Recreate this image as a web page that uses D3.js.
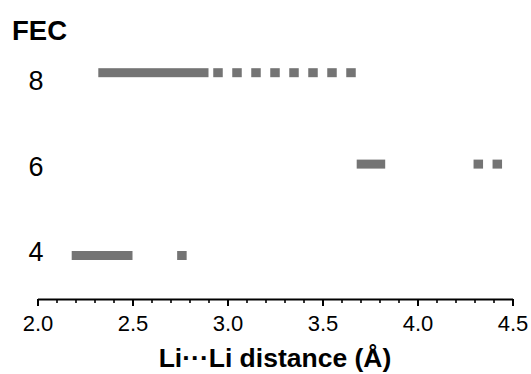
<!DOCTYPE html>
<html>
<head>
<meta charset="utf-8">
<script src="https://cdn.jsdelivr.net/npm/d3@7"></script>
<style>
  body { margin: 0; background: #fff; }
  svg { display: block; font-family: "Liberation Sans", Arial, Helvetica, sans-serif; }
</style>
</head>
<body>
<div id="chart"></div>
<script>
// FEC levels shown on the y side
const fecLevels = [8, 6, 4];

// continuous bands (Li...Li distance ranges, Å)
const bandFEC = [8, 6, 4];
const bandFrom = [2.32, 3.68, 2.18];
const bandTo = [2.90, 3.83, 2.50];

// single short segments (centre distance, Å)
const dotFEC = [8, 8, 8, 8, 8, 8, 8, 8, 6, 6, 4];
const dotDist = [2.95, 3.05, 3.15, 3.25, 3.35, 3.45, 3.55, 3.65, 4.32, 4.42, 2.76];

// x axis
const xMajorTicks = [2.0, 2.5, 3.0, 3.5, 4.0, 4.5];
const xMinorTicks = d3.range(20, 46).map(d => d / 10);

const width = 531;
const height = 374;
const barH = 9;
const dotW = 0.05;

const svg = d3.select('#chart').append('svg')
    .attr('width', width)
    .attr('height', height);

// scales
let xScale = d3.scaleLinear()
    .domain([2.0, 4.5])
    .range([37.5, 512.5]);

let yScale = d3.scaleLinear()
    .domain([4, 8])
    .range([255.5, 72.7]);

// labels sit a bit off the bar centres in the original
let yLabelScale = d3.scaleLinear()
    .domain([4, 8])
    .range([251.7, 80]);

const barColor = '#747474';

// bands
svg.append('g').selectAll('rect')
    .data(bandFEC)
    .join('rect')
    .attr('x', (d, i) => xScale(bandFrom[i]))
    .attr('width', (d, i) => xScale(bandTo[i]) - xScale(bandFrom[i]))
    .attr('y', d => yScale(d) - barH / 2)
    .attr('height', barH)
    .attr('fill', barColor);

// short segments
svg.append('g').selectAll('rect')
    .data(dotFEC)
    .join('rect')
    .attr('x', (d, i) => xScale(dotDist[i] - dotW / 2))
    .attr('width', xScale(2 + dotW) - xScale(2))
    .attr('y', d => yScale(d) - barH / 2)
    .attr('height', barH)
    .attr('fill', barColor);

// y labels
svg.append('text')
    .attr('x', 12)
    .attr('y', 40)
    .text('FEC')
    .style('font-size', '27.5px')
    .style('font-weight', 'bold')
    .style('fill', '#000');

svg.append('g').selectAll('text')
    .data(fecLevels)
    .join('text')
    .attr('x', 36)
    .attr('y', d => yLabelScale(d))
    .attr('dy', '0.36em')
    .attr('text-anchor', 'middle')
    .style('font-size', '27px')
    .style('fill', '#000')
    .text(d => d);

// x axis: minor ticks
const axisY = 299;

let minorAxis = d3.axisBottom(xScale)
    .tickValues(xMinorTicks)
    .tickSize(4)
    .tickSizeOuter(0)
    .tickFormat('');

svg.append('g')
    .attr('transform', `translate(0,${axisY})`)
    .call(minorAxis)
    .call(g => g.select('.domain').remove())
    .call(g => g.selectAll('line').attr('stroke', '#000').attr('stroke-width', 1.6));

// major ticks + labels
let majorAxis = d3.axisBottom(xScale)
    .tickValues(xMajorTicks)
    .tickSize(7)
    .tickSizeOuter(0)
    .tickPadding(9)
    .tickFormat(d3.format('.1f'));

svg.append('g')
    .attr('transform', `translate(0,${axisY})`)
    .call(majorAxis)
    .call(g => g.select('.domain').attr('stroke', '#000').attr('stroke-width', 2))
    .call(g => g.selectAll('line').attr('stroke', '#000').attr('stroke-width', 2))
    .call(g => g.selectAll('text')
        .style('font-size', '22px')
        .style('font-family', '"Liberation Sans", Arial, sans-serif')
        .attr('fill', '#000'));

// x title
svg.append('text')
    .attr('x', (xScale.range()[0] + xScale.range()[1]) / 2)
    .attr('y', 367)
    .attr('text-anchor', 'middle')
    .style('font-size', '26.5px')
    .style('font-weight', 'bold')
    .style('fill', '#000')
    .text('Li\u00B7\u00B7\u00B7Li distance (\u00C5)');
</script>
</body>
</html>
